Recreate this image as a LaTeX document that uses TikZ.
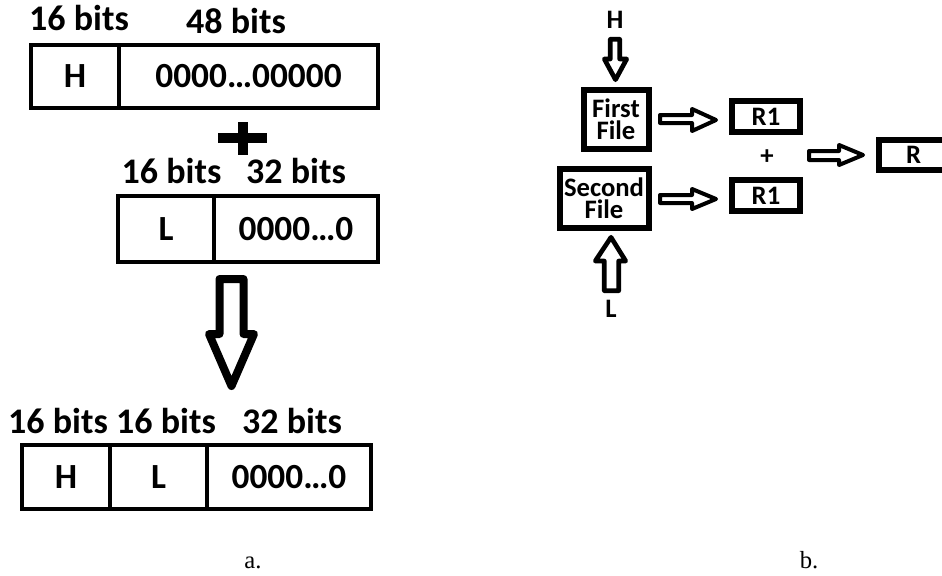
\documentclass[tikz,border=0pt]{standalone}
\usepackage{fontspec}
\setmainfont{Carlito}
\newfontfamily\captionserif{Liberation Serif}
\newcommand\pxl{0.75pt}
\begin{document}
\begin{tikzpicture}[x=0.75pt,y=-0.75pt,
  cell/.style={draw, line width=3pt, inner sep=0pt, font=\fontsize{26.5}{26.5}\selectfont\bfseries},
  bits/.style={anchor=base, inner sep=0pt, font=\fontsize{27}{27}\selectfont\bfseries},
  rbox/.style={draw, line width=4.5pt, inner sep=0pt, align=center, font=\fontsize{20}{16.5}\selectfont\bfseries},
  rtext/.style={anchor=base, inner sep=0pt, font=\fontsize{20}{20}\selectfont\bfseries},
  blockarrow/.style={draw, line join=round},
  captext/.style={anchor=base, inner sep=0pt, font=\captionserif\fontsize{18.5}{18.5}\selectfont}]
\useasboundingbox (0,0) rectangle (942,575);
\clip (0,0) rectangle (942,575);

% ---------- part a ----------
\node[bits] (b1) at (79,30) {16 bits};
\node[bits] (b2) at (236,33) {48 bits};
\node[cell, minimum width=88*\pxl, minimum height=63*\pxl] (h1) at (75,76.5) {H};
\node[cell, minimum width=259*\pxl, minimum height=63*\pxl] (z1) at (248.5,76.5) {0000…00000};

\draw[line width=7.5pt] (218,138) -- (267,138) (243,122) -- (243,155);

\node[bits] (b3) at (171.5,183) {16 bits};
\node[bits] (b4) at (296,183) {32 bits};
\node[cell, minimum width=96*\pxl, minimum height=66*\pxl] (l2) at (166,229) {L};
\node[cell, minimum width=164*\pxl, minimum height=66*\pxl] (z2) at (296,229) {0000…0};

% big down arrow
\draw[blockarrow, line width=6pt] (219.5,279) -- (243.5,279) -- (243.5,334) -- (254,334)
  -- (231.5,386) -- (209,334) -- (219.5,334) -- cycle;

\node[bits] (b5) at (58,433) {16 bits};
\node[bits] (b6) at (166,433) {16 bits};
\node[bits] (b7) at (292,433) {32 bits};
\node[cell, minimum width=88*\pxl, minimum height=64*\pxl] (h3) at (66,477) {H};
\node[cell, minimum width=97*\pxl, minimum height=64*\pxl] (l3) at (158.5,477) {L};
\node[cell, minimum width=164*\pxl, minimum height=64*\pxl] (z3) at (289,477) {0000…0};

\node[captext] (capa) at (253,568) {a.};

% ---------- part b ----------
\node[rtext] (hin) at (615,28) {H};
\draw[blockarrow, line width=3.5pt] (610.3,39.3) -- (619.7,39.3) -- (619.7,59) -- (626.7,59)
  -- (615.5,79.7) -- (604.3,59) -- (610.3,59) -- cycle;
\node[rbox, minimum width=65*\pxl, minimum height=59*\pxl] (first) at (616,119) {First\\File};
\node[rbox, minimum width=89*\pxl, minimum height=59*\pxl] (second) at (604,198) {Second\\File};
\draw[blockarrow, line width=3.5pt] (604.3,290.7) -- (618.7,290.7) -- (618.7,261) -- (625.7,261)
  -- (611,237.3) -- (595.3,261) -- (604.3,261) -- cycle;
\node[rtext] (lin) at (611,317) {L};

\draw[blockarrow, line width=3pt] (660,115) -- (692,115) -- (692,109) -- (716,120)
  -- (692,131) -- (692,123) -- (660,123) -- cycle;
\draw[blockarrow, line width=3pt] (660,195) -- (692,195) -- (692,189) -- (716,199)
  -- (692,209) -- (692,203) -- (660,203) -- cycle;
\node[rbox, minimum width=68*\pxl, minimum height=31*\pxl] (r1a) at (766,116.5) {R1};
\node[rbox, minimum width=68*\pxl, minimum height=31*\pxl] (r1b) at (766,195.5) {R1};
\node[rtext] (plus) at (767,164) {+};
\draw[blockarrow, line width=3pt] (809,151) -- (839,151) -- (839,145) -- (863,155)
  -- (839,165) -- (839,160) -- (809,160) -- cycle;
\node[rbox, minimum width=69*\pxl, minimum height=30*\pxl] (r) at (913.5,155) {R};

\node[captext] (capb) at (809,568) {b.};
\end{tikzpicture}
\end{document}
